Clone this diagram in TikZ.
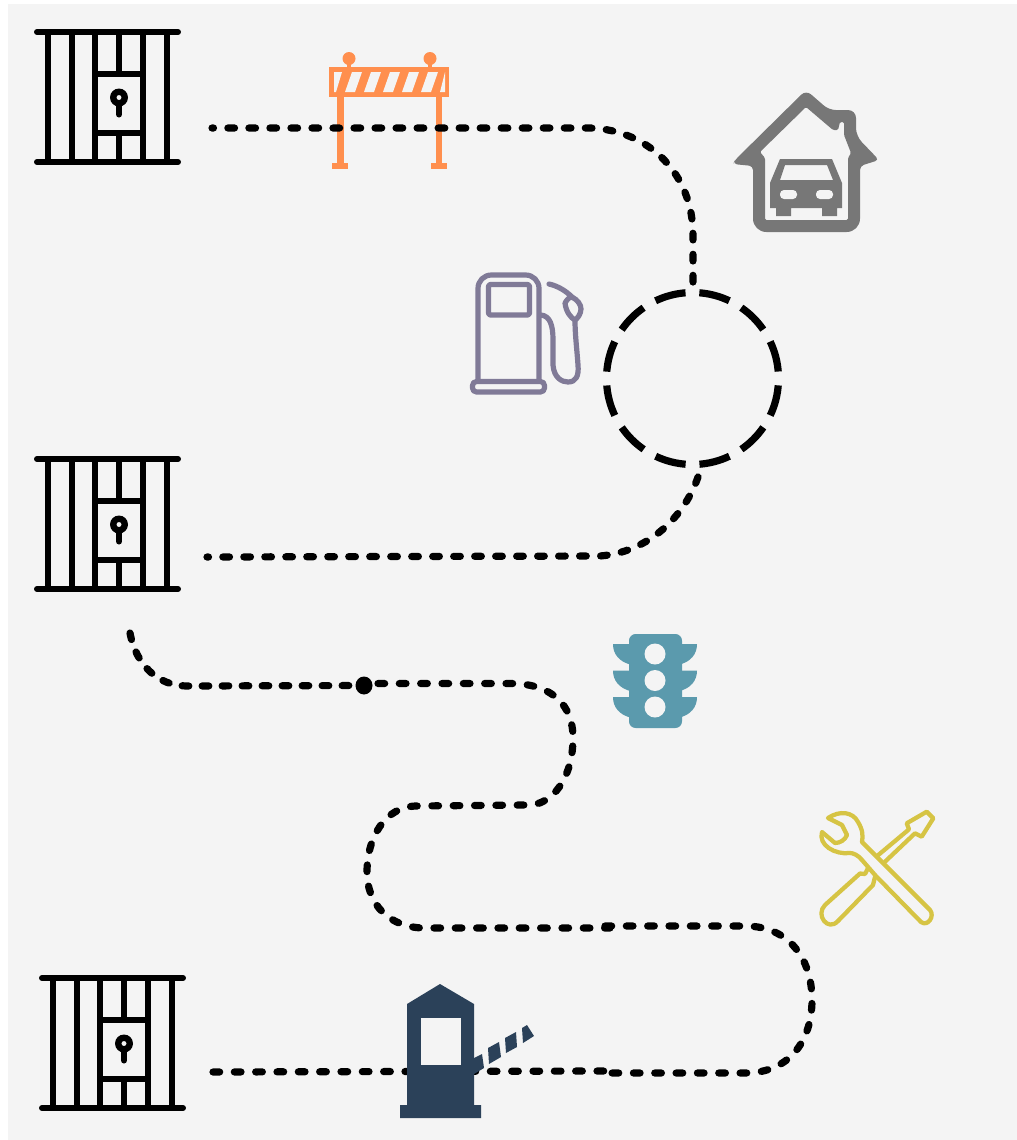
\documentclass[tikz,border=0pt]{standalone}
\definecolor{panel}{HTML}{F4F4F4}
\definecolor{barrier}{HTML}{FF8F4E}
\definecolor{housegray}{HTML}{777777}
\definecolor{pump}{HTML}{807A97}
\definecolor{signal}{HTML}{5B9AAD}
\definecolor{tools}{HTML}{D6C444}
\definecolor{booth}{HTML}{2B4159}
\tikzset{
  route/.style={line width=5.4pt,line cap=round,dash pattern=on 5pt off 11pt,draw=black},
  routefit/.style={line width=5.4pt,line cap=round,dash pattern=on 5pt off 10.77pt,draw=black},
  routetight/.style={line width=5.4pt,line cap=round,dash pattern=on 5pt off 10pt,draw=black},
  ring/.style={line width=5.4pt,draw=black,dash pattern=on 23.4pt off 10.37pt,dash phase=28.6pt},
  jailbar/.style={line width=4.5pt,draw=black,line cap=round},
  jail/.pic={
    \draw[jailbar] (37,32)--(178,32);
    \draw[jailbar] (37,162)--(178,162);
    \foreach \x in {48,72,95,143,167} \draw[jailbar,line cap=butt] (\x,32)--(\x,162);
    \draw[jailbar,line cap=butt] (119,32)--(119,73.5);
    \draw[jailbar,line cap=butt] (119,133)--(119,162);
    \draw[jailbar,line cap=butt] (95,73.5)--(143,73.5);
    \draw[jailbar,line cap=butt] (95,133)--(143,133);
    \fill[black,even odd rule] (119,97.5) circle (9) (119,97.5) circle (2.6);
    \draw[jailbar] (119,103)--(119,114.5);
  }
}
\begin{document}
\begin{tikzpicture}[x=0.75pt,y=-0.75pt]
\useasboundingbox (0,0) rectangle (1017,1140);
\fill[white] (0,0) rectangle (1017,1140);
\fill[panel] (8,4) rectangle (1017,1140);

% jails
\pic (jailA) at (0,0) {jail};
\pic (jailB) at (0,427) {jail};
\pic (jailC) at (5,946) {jail};

% barrier
\begin{scope}[barrier]
\fill (349,58.5) circle (6.5);
\fill (430,58.5) circle (6.5);
\fill (347,60) rectangle (351,70);
\fill (428,60) rectangle (432,70);
\fill (329,67) rectangle (449,97);
\fill (337,97) rectangle (343.5,165);
\fill (435.5,97) rectangle (442,165);
\fill (332,163) rectangle (348,169);
\fill (431,163) rectangle (447,169);
\fill[panel] (334,72)--(342,72)--(336,92)--(334,92)--cycle;
\foreach \x in {352,371,390,409,428}
  \fill[panel] (\x,72)--(\x+10,72)--(\x+3,92)--(\x-7,92)--cycle;
\fill[panel] (440,92)--(445,72)--(445,92)--cycle;
\end{scope}

% routes
\coordinate (r1a) at (212,128);
\coordinate (r1b) at (590,128);
\coordinate (r1c) at (693,235);
\coordinate (r1d) at (693,282);
\draw[routefit] (r1d)--(r1c) .. controls (693,175) and (650,130) .. (r1b)--(r1a);

\coordinate (ringc) at (692.5,378.5);
\draw[ring] (ringc) circle (86);

\coordinate (r2a) at (207,557);
\coordinate (r2b) at (600,556);
\coordinate (r2c) at (698,477);
\draw[routefit,dash pattern=on 5pt off 10.74pt] (r2c) .. controls (685,515) and (650,552) .. (r2b)--(r2a);

\coordinate (r3a) at (130,633);
\coordinate (r3b) at (187,686);
\coordinate (r3dot) at (364,685.5);
\draw[routetight] (r3a) .. controls (136,665) and (158,686) .. (r3b)--(r3dot);
\coordinate (r3c) at (378,683.5);
\coordinate (r3cc) at (512,683.5);
\coordinate (r3d) at (573,738);
\coordinate (r3e) at (527,805);
\coordinate (r3f) at (417,806);
\coordinate (r3g) at (367,872);
\coordinate (r3h) at (425,928);
\coordinate (r3i) at (610,928);
\draw[route] (r3c)--(r3cc)
  .. controls (552,684) and (573,705) .. (r3d)
  .. controls (573,778) and (552,806) .. (r3e)--(r3f)
  .. controls (385,806) and (367,838) .. (r3g)
  .. controls (367,905) and (390,928) .. (r3h)--(r3i);
\fill (r3dot) ellipse (8.5 and 9);

\coordinate (r4a) at (605,926);
\coordinate (r4b) at (745,926);
\coordinate (r4c) at (812,1000);
\coordinate (r4d) at (745,1073);
\coordinate (r4e) at (605,1073);
\draw[route] (r4a)--(r4b) .. controls (790,926) and (812,960) .. (r4c)
  .. controls (812,1040) and (790,1073) .. (r4d)--(r4e);
\coordinate (r5a) at (605,1071);
\coordinate (r5b) at (213,1072);
\draw[route] (r5b)--(r5a);

% house
\fill[housegray,even odd rule]
  [rounded corners=5pt] (735,160)--(806,90)--(829,110)
  [rounded corners=6pt] --(856,110)--(856,136)
  [rounded corners=3pt] --(879,160)--(860,166)
  [rounded corners=10pt] --(860,232)--(753,232)
  [rounded corners=3pt] --(753,166)--(733,164)--cycle
  [rounded corners=1pt] (806,107)--(833,130)--(838,130)--(840,122)--(844,122)--(844,135)--(851,153)--(848,158)--(848,220)--(765,220)--(765,158)--(760,152)--cycle;
\fill[housegray,even odd rule]
  (780,159)--(832,159)--(842,183)--(842,208)--(837,208)--(837,216)--(822,216)--(822,208)--(791,208)--(791,216)--(776,216)--(776,208)--(770,208)--(770,183)--cycle
  (785,165)--(827,165)--(833,180)--(780,180)--cycle;
\fill[panel,rounded corners=3pt] (780,190) rectangle (797,199);
\fill[panel,rounded corners=3pt] (816,190) rectangle (833,199);

% pump
\begin{scope}[draw=pump,line width=3.9pt,line cap=round,line join=round]
\draw[rounded corners=10pt] (478,381)--(478,275)--(539,275)--(539,381);
\draw[rounded corners=1.5pt] (488.5,284.5) rectangle (529.5,315);
\draw[rounded corners=3pt] (472.5,381.5) rectangle (544.5,392);
\draw (541,315) .. controls (550,316) and (553,325) .. (553,340)
  -- (553,365) .. controls (554,378) and (562,382) .. (568,382)
  .. controls (576,382) and (579,376) .. (578,365)
  .. controls (577,350) and (575,335) .. (575,320);
\draw (549,284) .. controls (558,286) and (566,291) .. (572,297);
\draw (565,303) .. controls (568,298) and (570,297) .. (572,297)
  .. controls (578,300) and (581,305) .. (581,309)
  .. controls (581,314) and (577,319) .. (575,320)
  .. controls (571,318) and (566,312) .. (565,303) -- cycle;
\end{scope}

% traffic light
\begin{scope}[signal]
\foreach \y in {644,670.5,697} {
  \fill (640,\y) -- (613,\y) .. controls (613,\y+10) and (619,\y+18) .. (632,\y+21) -- (640,\y+21) -- cycle;
  \fill (670,\y) -- (697,\y) .. controls (697,\y+10) and (691,\y+18) .. (678,\y+21) -- (670,\y+21) -- cycle;
}
\fill[rounded corners=5pt] (629,634) rectangle (682,728);
\foreach \y in {654,680.5,707} \fill[panel] (655,\y) circle (10.5);
\end{scope}

% tools
\begin{scope}[draw=tools,line width=3.2pt,line join=round,line cap=round]
\draw (828,818) .. controls (840,810) and (853,812) .. (858,822)
  .. controls (863,830) and (863,836) .. (862,842)
  -- (930,910) .. controls (935,916) and (928,927) .. (921,922)
  -- (875,875) -- (862,860) .. controls (858,855) and (853,853) .. (850,853)
  .. controls (835,855) and (818,845) .. (822,832)
  -- (835,843) .. controls (840,843) and (845,840) .. (847,835)
  -- (842,825) -- cycle;
\draw (868,868) -- (865,874) -- (860,873.5) -- (825,905) .. controls (815,915) and (828,932) .. (838,921) -- (873,885) -- (875,877);
\draw (878.3,855) -- (909,829.3) -- (906.7,823.3) -- (926.7,811.7) -- (933.3,818.3) -- (921.7,836.7) -- (915,833.3) -- (885,861.7);
\end{scope}

% booth
\fill[booth] (407,1004)--(440,984)--(474,1004)--(474,1105)--(481,1105)--(481,1118)--(400,1118)--(400,1105)--(407,1105)--cycle;
\fill[panel] (421,1018) rectangle (461,1065);
\fill[booth] (474,1058)--(482,1054)--(484,1068)--(474,1074)--cycle;
\fill[booth] (488,1048)--(499,1042)--(501,1057)--(489,1064)--cycle;
\fill[booth] (505,1038)--(516,1032)--(517,1047)--(506,1053)--cycle;
\fill[booth] (522,1028)--(527,1025)--(534,1036)--(523,1043)--cycle;
\end{tikzpicture}
\end{document}
